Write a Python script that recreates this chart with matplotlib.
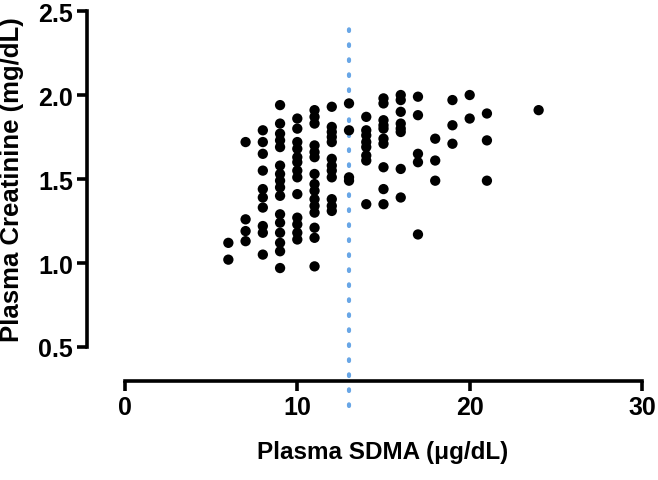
import matplotlib
matplotlib.use("Agg")
import matplotlib.pyplot as plt

plt.rcParams['font.family'] = ['Liberation Sans', 'DejaVu Sans']

# plasma SDMA columns (ug/dL) and creatinine values (mg/dL)
sdma_6 = [1.12, 1.02]
sdma_7 = [1.72, 1.26, 1.19, 1.13]
sdma_8 = [1.79, 1.72, 1.65, 1.55, 1.44, 1.39, 1.33, 1.22, 1.18, 1.05]
sdma_9 = [1.94, 1.83, 1.77, 1.73, 1.69, 1.58, 1.53, 1.49, 1.45, 1.40,
          1.29, 1.24, 1.18, 1.12, 1.07, 0.97]
sdma_10 = [1.86, 1.80, 1.72, 1.68, 1.63, 1.60, 1.55, 1.51, 1.41,
           1.27, 1.23, 1.18, 1.14]
sdma_11 = [1.91, 1.87, 1.83, 1.70, 1.66, 1.63, 1.53, 1.47, 1.43, 1.38,
           1.34, 1.30, 1.21, 1.15, 0.98]
sdma_12 = [1.93, 1.81, 1.78, 1.75, 1.72, 1.62, 1.58, 1.55, 1.51,
           1.38, 1.34, 1.31]
sdma_13 = [1.95, 1.79, 1.51, 1.49]
sdma_14 = [1.87, 1.79, 1.76, 1.72, 1.69, 1.64, 1.61, 1.35]
sdma_15 = [1.98, 1.95, 1.85, 1.82, 1.80, 1.74, 1.71, 1.57, 1.44, 1.35]
sdma_16 = [2.00, 1.97, 1.90, 1.83, 1.80, 1.78, 1.56, 1.39]
sdma_17 = [1.99, 1.88, 1.65, 1.60, 1.17]
sdma_18 = [1.74, 1.61, 1.49]
sdma_19 = [1.97, 1.82, 1.71]
sdma_20 = [2.00, 1.86]
sdma_21 = [1.89, 1.73, 1.49]
sdma_24 = [1.91]

columns = {6: sdma_6, 7: sdma_7, 8: sdma_8, 9: sdma_9, 10: sdma_10,
           11: sdma_11, 12: sdma_12, 13: sdma_13, 14: sdma_14, 15: sdma_15,
           16: sdma_16, 17: sdma_17, 18: sdma_18, 19: sdma_19, 20: sdma_20,
           21: sdma_21, 24: sdma_24}

cutoff = 13

x = []
y = []
for k, vals in columns.items():
    x += [k] * len(vals)
    y += vals

fig = plt.figure(figsize=(6.58, 4.81), dpi=100)
ax = fig.add_axes([87 / 658, 99 / 481, (650 - 87) / 658, (382 - 8) / 481])
ax.set_xlim(-2.2, 30.46)
ax.set_ylim(0.2976, 2.524)

# cutoff line (drawn below the points)
ax.plot([cutoff, cutoff], [0.15, 2.47], linestyle=(0, (0.4, 3.2)), color='#68a6e6',
        linewidth=3, dash_capstyle='round', clip_on=False, zorder=1)
ax.scatter(x, y, s=55, color='black', edgecolors='none', zorder=2, clip_on=False)

for s in ['top', 'right']:
    ax.spines[s].set_visible(False)
ax.spines['left'].set_bounds(0.5, 2.5)
ax.spines['bottom'].set_bounds(0, 30)
ax.spines['left'].set_linewidth(2.6)
ax.spines['bottom'].set_linewidth(2.6)

ax.set_xticks([0, 10, 20, 30])
ax.set_yticks([0.5, 1.0, 1.5, 2.0, 2.5])
ax.set_yticklabels(['0.5', '1.0', '1.5', '2.0', '2.5'])
ax.tick_params(width=2.6, length=7, labelsize=18, pad=3)
for lab in ax.get_xticklabels() + ax.get_yticklabels():
    lab.set_fontweight('bold')

ax.set_xlabel('Plasma SDMA (μg/dL)', fontsize=17.5, fontweight='bold')
ax.set_ylabel('Plasma Creatinine (mg/dL)', fontsize=18.5, fontweight='bold')
# centre the labels on the drawn spines, not on the whole axes box
ax.xaxis.set_label_coords(296 / 563, -59 / 374)
ax.yaxis.set_label_coords(-63 / 563, 202 / 374)

fig.savefig('out.png', dpi=100)
